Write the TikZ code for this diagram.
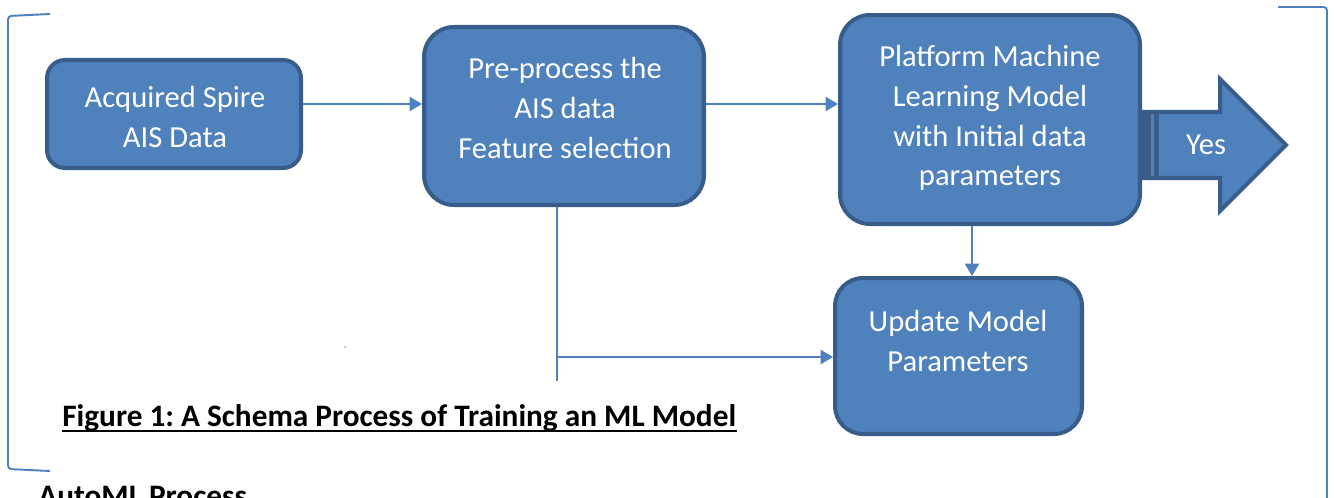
\documentclass[tikz,border=0pt]{standalone}
\usepackage{fontspec}
\setmainfont{Carlito}
\usetikzlibrary{arrows.meta,calc}

\definecolor{boxfill}{HTML}{4F81BD}
\definecolor{boxedge}{HTML}{385D8A}

\tikzset{
  blk/.style={draw=boxedge,fill=boxfill,line width=2.3pt,inner sep=0pt},
  lbl/.style={text=white,align=center,font=\fontsize{17.4}{22.7}\selectfont},
  link/.style={draw=boxfill,line width=1.1pt},
  tip/.style={-{Triangle[length=7pt,width=8pt]}},
  captxt/.style={inner sep=0pt,font=\frenchspacing\bfseries\fontsize{17.8}{22}\selectfont},
  brk/.style={draw=boxfill,line width=1.1pt,rounded corners=2pt}
}

\begin{document}
\begin{tikzpicture}[x=0.02cm,y=-0.02cm]
\useasboundingbox (0,0) rectangle (1334,497);
% brackets
\draw[brk] (50,14)--(8,16)--(8,469)--(50,471);
\draw[brk] (1278,7)--(1327,7)--(1327,510);
% yes arrow
\draw[blk,fill=boxfill] (1143,112)--(1220,112)--(1220,79)--(1286,145)--(1220,211)--(1220,178)--(1143,178)--cycle;
\fill[boxedge] (1143,112) rectangle (1151,178);
\fill[boxedge] (1154,112) rectangle (1159,178);
\node[lbl] (yes) at (1206,145) {Yes};
% boxes
\node[blk,rounded corners=0.36cm,minimum width=5.08cm,minimum height=2.16cm] (acq) at (174,114) {};
\node[blk,rounded corners=0.6cm,minimum width=5.6cm,minimum height=3.56cm] (pre) at (564,116) {};
\node[blk,rounded corners=0.6cm,minimum width=6.0cm,minimum height=4.18cm] (plat) at (990,119.5) {};
\node[blk,rounded corners=0.56cm,minimum width=4.94cm,minimum height=3.12cm] (upd) at (958.5,356) {};
\node[lbl] (acqtxt) at (175,117) {Acquired Spire\\AIS Data};
\node[lbl] (pretxt) at (565,108) {Pre-process the\\AIS data\\Feature selection};
\node[lbl] (plattxt) at (990,118) {Platform Machine\\Learning Model\\with Initial data\\parameters};
\node[lbl] (updtxt) at (958,341) {Update Model\\Parameters};
% connectors
\coordinate (fork) at (557,357);
\coordinate (stem) at (557,381);
\draw[link,tip] (acq.east |- 0,104) -- (pre.west |- 0,104);
\draw[link,tip] (pre.east |- 0,104) -- (plat.west |- 0,104);
\draw[link,tip] (plat.south -| 972,0) -- (upd.north -| 972,0);
\draw[link] (pre.south -| stem) -- (stem);
\draw[link,tip] (fork) -- (upd.west |- fork);
\fill (345,347) circle (0.6);
% captions
\node[captxt,anchor=base west] (fig) at (62,426) {Figure 1: A Schema Process of Training an ML Model};
\draw[line width=1.6pt] ($(fig.base west)+(0,5)$) -- ($(fig.base east)+(0,5)$);
\node[captxt,anchor=base west] (auto) at (38,506) {AutoML Process};
\end{tikzpicture}
\end{document}
